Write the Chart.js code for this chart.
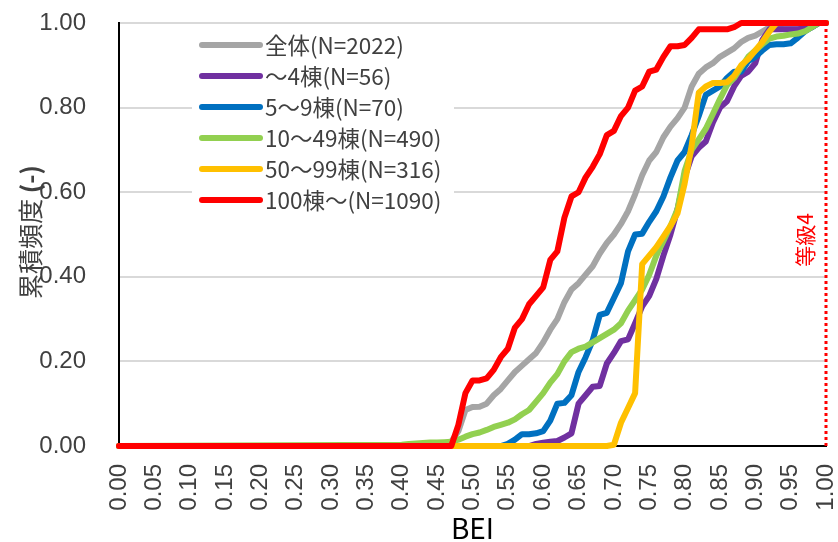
<!DOCTYPE html>
<html>
<head>
<meta charset="utf-8">
<script src="https://cdn.jsdelivr.net/npm/chart.js@4.4.1/dist/chart.umd.min.js"></script>
<style>
  html, body { margin: 0; padding: 0; background: #fff; }
  #wrap { position: relative; width: 838px; height: 542px; }
</style>
</head>
<body>
<div id="wrap"><canvas id="chart"></canvas></div>
<script>
// BEI values (x), 0.00 then 0.40 .. 1.00 step 0.01
const bei = [0.00,
  0.40, 0.41, 0.42, 0.43, 0.44, 0.45, 0.46, 0.47, 0.48, 0.49,
  0.50, 0.51, 0.52, 0.53, 0.54, 0.55, 0.56, 0.57, 0.58, 0.59,
  0.60, 0.61, 0.62, 0.63, 0.64, 0.65, 0.66, 0.67, 0.68, 0.69,
  0.70, 0.71, 0.72, 0.73, 0.74, 0.75, 0.76, 0.77, 0.78, 0.79,
  0.80, 0.81, 0.82, 0.83, 0.84, 0.85, 0.86, 0.87, 0.88, 0.89,
  0.90, 0.91, 0.92, 0.93, 0.94, 0.95, 0.96, 0.97, 0.98, 0.99,
  1.00];

const seriesNames = ["全体(N=2022)", "～4棟(N=56)", "5～9棟(N=70)", "10～49棟(N=490)", "50～99棟(N=316)", "100棟～(N=1090)"];
const seriesColors = ["#A5A5A5", "#7030A0", "#0070C0", "#92D050", "#FFC000", "#FF0000"];

const allBldg = [0,
  0, 0, 0.001, 0.001, 0.002, 0.002, 0.003, 0.01, 0.035, 0.085,
  0.092, 0.093, 0.10, 0.12, 0.135, 0.155, 0.175, 0.19, 0.205, 0.22,
  0.245, 0.275, 0.30, 0.34, 0.37, 0.385, 0.405, 0.425, 0.455, 0.48,
  0.50, 0.525, 0.555, 0.595, 0.64, 0.675, 0.695, 0.73, 0.755, 0.775,
  0.80, 0.85, 0.88, 0.895, 0.905, 0.92, 0.93, 0.94, 0.955, 0.965,
  0.97, 0.98, 0.99, 0.995, 0.998, 0.998, 0.998, 0.998, 0.998, 1,
  1];
const upTo4 = [0,
  0, 0, 0, 0, 0, 0, 0, 0, 0, 0,
  0, 0, 0, 0, 0, 0, 0, 0, 0, 0.005,
  0.008, 0.01, 0.012, 0.02, 0.03, 0.10, 0.12, 0.14, 0.142, 0.195,
  0.22, 0.248, 0.252, 0.29, 0.33, 0.355, 0.395, 0.45, 0.50, 0.56,
  0.635, 0.685, 0.705, 0.72, 0.765, 0.80, 0.815, 0.85, 0.875, 0.885,
  0.905, 0.96, 0.985, 0.985, 0.985, 0.985, 0.985, 0.987, 0.99, 1,
  1];
const from5to9 = [0,
  0, 0, 0, 0, 0, 0, 0, 0, 0, 0,
  0, 0, 0, 0, 0, 0.005, 0.015, 0.028, 0.028, 0.03,
  0.035, 0.06, 0.10, 0.102, 0.12, 0.175, 0.21, 0.25, 0.31, 0.315,
  0.35, 0.385, 0.46, 0.50, 0.502, 0.53, 0.555, 0.59, 0.635, 0.675,
  0.695, 0.735, 0.78, 0.83, 0.84, 0.85, 0.87, 0.885, 0.885, 0.91,
  0.92, 0.935, 0.948, 0.95, 0.95, 0.952, 0.965, 0.98, 0.99, 1,
  1];
const from10to49 = [0,
  0.003, 0.005, 0.006, 0.007, 0.008, 0.008, 0.009, 0.01, 0.015, 0.022,
  0.028, 0.032, 0.038, 0.045, 0.05, 0.055, 0.063, 0.075, 0.085, 0.105,
  0.125, 0.15, 0.17, 0.20, 0.222, 0.23, 0.235, 0.245, 0.255, 0.265,
  0.275, 0.29, 0.32, 0.345, 0.37, 0.405, 0.45, 0.485, 0.52, 0.56,
  0.65, 0.70, 0.725, 0.75, 0.785, 0.82, 0.853, 0.87, 0.895, 0.92,
  0.935, 0.95, 0.963, 0.968, 0.97, 0.973, 0.975, 0.98, 0.99, 1,
  1];
const from50to99 = [0,
  0, 0, 0, 0, 0, 0, 0, 0, 0, 0,
  0, 0, 0, 0, 0, 0, 0, 0, 0, 0,
  0, 0, 0, 0, 0, 0, 0, 0, 0, 0,
  0.003, 0.055, 0.09, 0.125, 0.43, 0.45, 0.47, 0.495, 0.52, 0.55,
  0.62, 0.71, 0.835, 0.85, 0.858, 0.858, 0.86, 0.875, 0.90, 0.915,
  0.935, 0.955, 0.98, 1, 1, 1, 1, 1, 1, 1,
  1];
const over100 = [0,
  0, 0, 0, 0, 0, 0, 0, 0, 0.05, 0.125,
  0.155, 0.155, 0.16, 0.18, 0.21, 0.23, 0.28, 0.30, 0.335, 0.355,
  0.375, 0.44, 0.46, 0.54, 0.59, 0.60, 0.635, 0.66, 0.69, 0.735,
  0.745, 0.78, 0.80, 0.84, 0.85, 0.885, 0.89, 0.92, 0.945, 0.945,
  0.948, 0.965, 0.985, 0.985, 0.985, 0.985, 0.985, 0.99, 1, 1,
  1, 1, 1, 1, 1, 1, 1, 1, 1, 1,
  1];

// grade 4 reference line
const gradeLineX = [1.00, 1.00];
const gradeLineY = [0, 1];
const gradeLabel = "等級4";

const seriesValues = [allBldg, upTo4, from5to9, from10to49, from50to99, over100];

const tickFont = "'Liberation Sans', Arial, sans-serif";
const jpFont = "'Noto Sans CJK JP', 'Noto Sans', sans-serif";
const textColor = "#404040";

const datasets = seriesValues.map((vals, i) => ({
  label: seriesNames[i],
  data: vals.map((v, j) => ({ x: bei[j], y: v })),
  borderColor: seriesColors[i],
  backgroundColor: seriesColors[i],
  borderWidth: 6,
  borderJoinStyle: "round",
  borderCapStyle: "round",
  pointRadius: 0,
  tension: 0,
  fill: false,
  clip: false,
  order: seriesValues.length - i
}));

datasets.push({
  label: gradeLabel,
  data: gradeLineX.map((x, j) => ({ x: x, y: gradeLineY[j] })),
  borderColor: "#FF0000",
  borderWidth: 3,
  borderDash: [3, 3],
  pointRadius: 0,
  clip: false,
  order: 0
});

// legend inside the plot, plus the texts Excel puts by hand
const overlay = {
  id: "overlay",
  beforeDatasetsDraw(chart) {
    const ctx = chart.ctx;
    ctx.save();
    ctx.fillStyle = "#fff";
    ctx.fillRect(192, 30, 262, 186);
    ctx.font = "22.5px " + jpFont;
    ctx.textBaseline = "middle";
    ctx.textAlign = "left";
    seriesNames.forEach((name, i) => {
      const y = 45 + i * 31;
      ctx.strokeStyle = seriesColors[i];
      ctx.lineWidth = 6;
      ctx.lineCap = "round";
      ctx.beginPath();
      ctx.moveTo(202, y);
      ctx.lineTo(260, y);
      ctx.stroke();
      ctx.fillStyle = textColor;
      ctx.fillText(name, 265, y);
    });
    ctx.restore();
  },
  afterDraw(chart) {
    const ctx = chart.ctx;
    const { left, right, top } = chart.chartArea;
    ctx.save();
    // y title
    ctx.translate(30, 232);
    ctx.rotate(-Math.PI / 2);
    ctx.fillStyle = textColor;
    ctx.textBaseline = "middle";
    ctx.font = "25px " + jpFont;
    const t1 = "累積頻度 ";
    const w1 = ctx.measureText(t1).width;
    ctx.font = "bold 25px " + jpFont;
    const t2 = "(-)";
    const w2 = ctx.measureText(t2).width;
    const start = -(w1 + w2) / 2;
    ctx.textAlign = "left";
    ctx.font = "25px " + jpFont;
    ctx.fillText(t1, start, 0);
    ctx.font = "bold 25px " + jpFont;
    ctx.fillText(t2, start + w1, 0);
    ctx.restore();

    // x title
    ctx.save();
    ctx.fillStyle = "#000";
    ctx.font = "28px " + jpFont;
    ctx.textAlign = "center";
    ctx.textBaseline = "middle";
    ctx.fillText("BEI", (left + right) / 2, 528);
    ctx.restore();

    // grade label
    const xs = chart.scales.x;
    ctx.save();
    ctx.translate(xs.getPixelForValue(gradeLineX[0]) - 21, top + 217);
    ctx.rotate(-Math.PI / 2);
    ctx.fillStyle = "#FF0000";
    ctx.font = "21px " + jpFont;
    ctx.textAlign = "center";
    ctx.textBaseline = "middle";
    ctx.fillText(gradeLabel, 0, 0);
    ctx.restore();
  }
};

new Chart(document.getElementById("chart"), {
  type: "line",
  data: { datasets: datasets },
  options: {
    responsive: true,
    maintainAspectRatio: false,
    animation: false,
    layout: { padding: { top: 23, right: 12, bottom: 0, left: 0 } },
    plugins: {
      legend: { display: false },
      tooltip: { enabled: false }
    },
    scales: {
      x: {
        type: "linear",
        min: 0,
        max: 1,
        ticks: {
          stepSize: 0.05,
          autoSkip: false,
          maxRotation: 90,
          minRotation: 90,
          padding: 18,
          color: textColor,
          font: { family: tickFont, size: 24 },
          callback: (v) => Number(v).toFixed(2)
        },
        grid: { display: false, drawTicks: false },
        border: { color: "#000", width: 2 },
        afterFit(s) {
          s.height = 96;
          s.paddingLeft = 0;
          s.paddingRight = 0;
        }
      },
      y: {
        min: 0,
        max: 1,
        ticks: {
          stepSize: 0.2,
          padding: 33,
          color: textColor,
          font: { family: tickFont, size: 24 },
          callback: (v) => Number(v).toFixed(2)
        },
        grid: { color: "#D9D9D9", lineWidth: 2, drawTicks: false },
        border: { color: "#000", width: 2 },
        afterFit(s) {
          s.width = 119;
          s.paddingTop = 0;
          s.paddingBottom = 0;
        }
      }
    }
  },
  plugins: [overlay]
});
</script>
</body>
</html>
